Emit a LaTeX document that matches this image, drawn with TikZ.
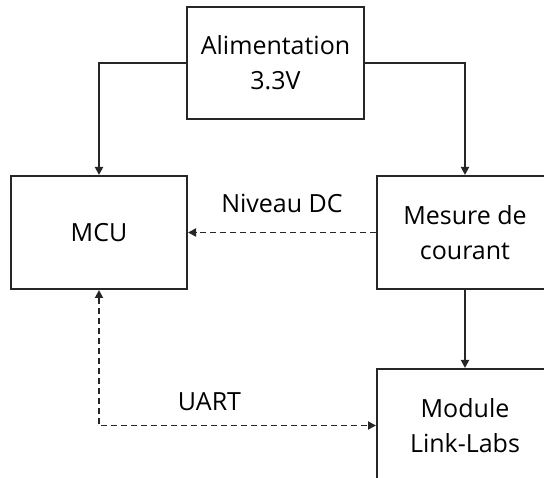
\documentclass[tikz,border=0pt]{standalone}
\usepackage{fontspec}
\setmainfont{Open Sans}
\usetikzlibrary{arrows.meta}
\begin{document}
\begin{tikzpicture}[x=1pt,y=1pt,
  box/.style={draw=black!85, line width=2pt, minimum width=176pt, minimum height=113pt, inner sep=0pt, align=center, font=\fontsize{25pt}{35pt}\selectfont},
  lbl/.style={anchor=base, inner sep=0pt, font=\fontsize{25pt}{35pt}\selectfont},
  arr/.style={draw=black!85, line width=1.8pt, -{Triangle[length=8pt,width=8pt]}},
  dsh/.style={dash pattern=on 6pt off 4pt}]
\useasboundingbox (0,0) rectangle (544,-478);
\clip (0,0) rectangle (544,-478);
\node[box, minimum width=177pt, minimum height=112pt] (ali) at (275.5,-63) {Alimentation\\3.3V};
\node[box] (mcu) at (99,-232.5) {MCU};
\node[box] (mes) at (465,-232.5) {Mesure de\\courant};
\node[box] (mod) at (465,-425.5) {Module\\Link-Labs};
\node[lbl] (ndc) at (282,-213) {Niveau DC};
\node[lbl] (uart) at (209.5,-410.7) {UART};
\draw[arr] (ali.west) -| (mcu.north);
\draw[arr] (ali.east) -| (mes.north);
\draw[arr, dsh] (mes.west) -- (mcu.east);
\draw[arr] (mes.south) -- (mod.north);
\draw[arr, dsh, {Triangle[length=8pt,width=8pt]}-{Triangle[length=8pt,width=8pt]}] (mcu.south) |- (mod.west);
\end{tikzpicture}
\end{document}
